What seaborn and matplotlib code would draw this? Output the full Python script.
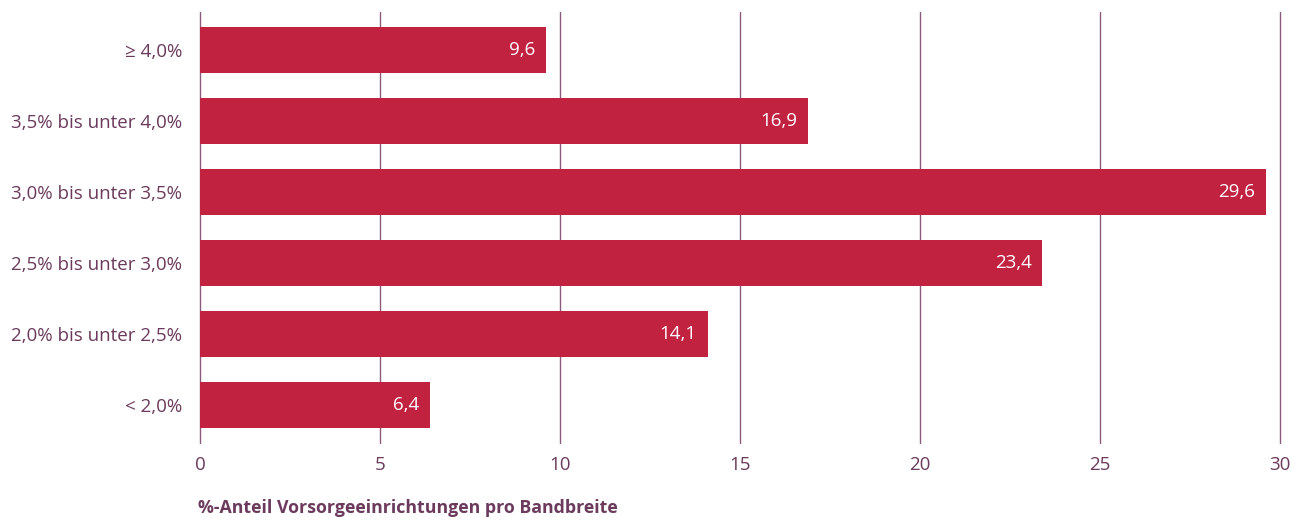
import matplotlib
matplotlib.use("Agg")
import matplotlib.pyplot as plt
import seaborn as sns
import pandas as pd

# data
categories = ["≥ 4,0%", "3,5% bis unter 4,0%", "3,0% bis unter 3,5%",
              "2,5% bis unter 3,0%", "2,0% bis unter 2,5%", "< 2,0%"]
values = [9.6, 16.9, 29.6, 23.4, 14.1, 6.4]
xticks = [0, 5, 10, 15, 20, 25, 30]

df = pd.DataFrame({"band": categories, "share": values})

bar_color = "#c0223f"
text_color = "#6b3a5c"
grid_color = "#8a5a7a"

sns.set_style("white")
plt.rcParams['font.family'] = ['Open Sans', 'DejaVu Sans']

fig = plt.figure(figsize=(12.97, 5.2), dpi=100)
ax = fig.add_axes([200 / 1297, 77 / 520, 1080 / 1297, 431 / 520])

sns.barplot(data=df, x="share", y="band", orient="h", color=bar_color,
            width=0.65, saturation=1, linewidth=0, ax=ax, zorder=3)

ax.set_xlim(0, 30)
ax.set_ylim(5.54, -0.54)
ax.set_xticks(xticks)
ax.set_xticklabels([str(t) for t in xticks])
for t in xticks:
    ax.axvline(t, color=grid_color, lw=1, zorder=1, clip_on=False)

for s in ax.spines.values():
    s.set_visible(False)
ax.tick_params(axis="both", length=0, labelsize=13.5, colors=text_color)
ax.tick_params(axis="x", pad=9)
ax.tick_params(axis="y", pad=13)
ax.set_xlabel("")
ax.set_ylabel("")

for i, v in enumerate(values):
    ax.text(v - 0.3, i, f"{v:.1f}".replace(".", ","), color="white",
            ha="right", va="center", fontsize=13.5, zorder=4)

fig.text(198 / 1297, 1 - 508 / 520, "%-Anteil Vorsorgeeinrichtungen pro Bandbreite",
         color=text_color, fontsize=12.8, fontweight="bold", va="center")

fig.savefig("out.png", dpi=100)
